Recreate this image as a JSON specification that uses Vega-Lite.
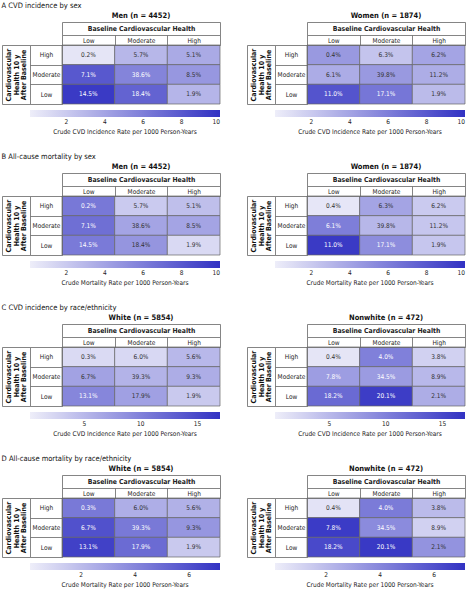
{
  "$schema": "https://vega.github.io/schema/vega-lite/v6.json",
  "padding": {"left": 1, "top": 1, "right": 0, "bottom": 0},
  "background": "white",
  "config": {
    "font": "DejaVu Sans Condensed, Lato, sans-serif",
    "view": {"stroke": null},
    "axis": {"domainColor": "#666", "tickColor": "#666", "domainWidth": 0.8, "tickWidth": 0.8, "labelColor": "#222", "titleColor": "#111", "labelFont": "DejaVu Sans Condensed, Lato, sans-serif", "titleFont": "DejaVu Sans Condensed, Lato, sans-serif", "grid": false},
    "legend": {"labelFont": "DejaVu Sans Condensed, Lato, sans-serif", "titleFont": "DejaVu Sans Condensed, Lato, sans-serif", "labelColor": "#222", "titleColor": "#222"},
    "title": {"font": "DejaVu Sans Condensed, Lato, sans-serif", "color": "#111"}
  },
  "datasets": {
    "cells": [
      {"measure": "CVD", "group": "Men", "baseline": "Low", "after": "High", "label": "0.2%", "rate": 0.6},
      {"measure": "CVD", "group": "Men", "baseline": "Moderate", "after": "High", "label": "5.7%", "rate": 3.0},
      {"measure": "CVD", "group": "Men", "baseline": "High", "after": "High", "label": "5.1%", "rate": 3.7},
      {"measure": "CVD", "group": "Men", "baseline": "Low", "after": "Moderate", "label": "7.1%", "rate": 8.0},
      {"measure": "CVD", "group": "Men", "baseline": "Moderate", "after": "Moderate", "label": "38.6%", "rate": 5.7},
      {"measure": "CVD", "group": "Men", "baseline": "High", "after": "Moderate", "label": "8.5%", "rate": 4.7},
      {"measure": "CVD", "group": "Men", "baseline": "Low", "after": "Low", "label": "14.5%", "rate": 9.6},
      {"measure": "CVD", "group": "Men", "baseline": "Moderate", "after": "Low", "label": "18.4%", "rate": 7.4},
      {"measure": "CVD", "group": "Men", "baseline": "High", "after": "Low", "label": "1.9%", "rate": 3.1},
      {"measure": "CVD", "group": "Women", "baseline": "Low", "after": "High", "label": "0.4%", "rate": 4.6},
      {"measure": "CVD", "group": "Women", "baseline": "Moderate", "after": "High", "label": "6.3%", "rate": 2.3},
      {"measure": "CVD", "group": "Women", "baseline": "High", "after": "High", "label": "6.2%", "rate": 4.0},
      {"measure": "CVD", "group": "Women", "baseline": "Low", "after": "Moderate", "label": "6.1%", "rate": 3.6},
      {"measure": "CVD", "group": "Women", "baseline": "Moderate", "after": "Moderate", "label": "39.8%", "rate": 4.6},
      {"measure": "CVD", "group": "Women", "baseline": "High", "after": "Moderate", "label": "11.2%", "rate": 3.5},
      {"measure": "CVD", "group": "Women", "baseline": "Low", "after": "Low", "label": "11.0%", "rate": 8.2},
      {"measure": "CVD", "group": "Women", "baseline": "Moderate", "after": "Low", "label": "17.1%", "rate": 6.4},
      {"measure": "CVD", "group": "Women", "baseline": "High", "after": "Low", "label": "1.9%", "rate": 2.8},
      {"measure": "Mortality", "group": "Men", "baseline": "Low", "after": "High", "label": "0.2%", "rate": 6.3},
      {"measure": "Mortality", "group": "Men", "baseline": "Moderate", "after": "High", "label": "5.7%", "rate": 2.0},
      {"measure": "Mortality", "group": "Men", "baseline": "High", "after": "High", "label": "5.1%", "rate": 2.6},
      {"measure": "Mortality", "group": "Men", "baseline": "Low", "after": "Moderate", "label": "7.1%", "rate": 6.8},
      {"measure": "Mortality", "group": "Men", "baseline": "Moderate", "after": "Moderate", "label": "38.6%", "rate": 4.0},
      {"measure": "Mortality", "group": "Men", "baseline": "High", "after": "Moderate", "label": "8.5%", "rate": 4.0},
      {"measure": "Mortality", "group": "Men", "baseline": "Low", "after": "Low", "label": "14.5%", "rate": 6.2},
      {"measure": "Mortality", "group": "Men", "baseline": "Moderate", "after": "Low", "label": "18.4%", "rate": 4.8},
      {"measure": "Mortality", "group": "Men", "baseline": "High", "after": "Low", "label": "1.9%", "rate": 1.2},
      {"measure": "Mortality", "group": "Women", "baseline": "Low", "after": "High", "label": "0.4%", "rate": 0.5},
      {"measure": "Mortality", "group": "Women", "baseline": "Moderate", "after": "High", "label": "6.3%", "rate": 4.0},
      {"measure": "Mortality", "group": "Women", "baseline": "High", "after": "High", "label": "6.2%", "rate": 2.0},
      {"measure": "Mortality", "group": "Women", "baseline": "Low", "after": "Moderate", "label": "6.1%", "rate": 6.0},
      {"measure": "Mortality", "group": "Women", "baseline": "Moderate", "after": "Moderate", "label": "39.8%", "rate": 3.0},
      {"measure": "Mortality", "group": "Women", "baseline": "High", "after": "Moderate", "label": "11.2%", "rate": 2.2},
      {"measure": "Mortality", "group": "Women", "baseline": "Low", "after": "Low", "label": "11.0%", "rate": 9.6},
      {"measure": "Mortality", "group": "Women", "baseline": "Moderate", "after": "Low", "label": "17.1%", "rate": 5.2},
      {"measure": "Mortality", "group": "Women", "baseline": "High", "after": "Low", "label": "1.9%", "rate": 2.2},
      {"measure": "CVD", "group": "White", "baseline": "Low", "after": "High", "label": "0.3%", "rate": 2.0},
      {"measure": "CVD", "group": "White", "baseline": "Moderate", "after": "High", "label": "6.0%", "rate": 2.2},
      {"measure": "CVD", "group": "White", "baseline": "High", "after": "High", "label": "5.6%", "rate": 5.0},
      {"measure": "CVD", "group": "White", "baseline": "Low", "after": "Moderate", "label": "6.7%", "rate": 7.0},
      {"measure": "CVD", "group": "White", "baseline": "Moderate", "after": "Moderate", "label": "39.3%", "rate": 5.5},
      {"measure": "CVD", "group": "White", "baseline": "High", "after": "Moderate", "label": "9.3%", "rate": 6.0},
      {"measure": "CVD", "group": "White", "baseline": "Low", "after": "Low", "label": "13.1%", "rate": 9.5},
      {"measure": "CVD", "group": "White", "baseline": "Moderate", "after": "Low", "label": "17.9%", "rate": 7.2},
      {"measure": "CVD", "group": "White", "baseline": "High", "after": "Low", "label": "1.9%", "rate": 3.5},
      {"measure": "CVD", "group": "Nonwhite", "baseline": "Low", "after": "High", "label": "0.4%", "rate": 1.0},
      {"measure": "CVD", "group": "Nonwhite", "baseline": "Moderate", "after": "High", "label": "4.0%", "rate": 10.0},
      {"measure": "CVD", "group": "Nonwhite", "baseline": "High", "after": "High", "label": "3.8%", "rate": 2.8},
      {"measure": "CVD", "group": "Nonwhite", "baseline": "Low", "after": "Moderate", "label": "7.8%", "rate": 7.4},
      {"measure": "CVD", "group": "Nonwhite", "baseline": "Moderate", "after": "Moderate", "label": "34.5%", "rate": 7.6},
      {"measure": "CVD", "group": "Nonwhite", "baseline": "High", "after": "Moderate", "label": "8.9%", "rate": 5.0},
      {"measure": "CVD", "group": "Nonwhite", "baseline": "Low", "after": "Low", "label": "18.2%", "rate": 12.0},
      {"measure": "CVD", "group": "Nonwhite", "baseline": "Moderate", "after": "Low", "label": "20.1%", "rate": 16.0},
      {"measure": "CVD", "group": "Nonwhite", "baseline": "High", "after": "Low", "label": "2.1%", "rate": 6.0},
      {"measure": "Mortality", "group": "White", "baseline": "Low", "after": "High", "label": "0.3%", "rate": 4.5},
      {"measure": "Mortality", "group": "White", "baseline": "Moderate", "after": "High", "label": "6.0%", "rate": 2.5},
      {"measure": "Mortality", "group": "White", "baseline": "High", "after": "High", "label": "5.6%", "rate": 2.4},
      {"measure": "Mortality", "group": "White", "baseline": "Low", "after": "Moderate", "label": "6.7%", "rate": 6.0},
      {"measure": "Mortality", "group": "White", "baseline": "Moderate", "after": "Moderate", "label": "39.3%", "rate": 4.5},
      {"measure": "Mortality", "group": "White", "baseline": "High", "after": "Moderate", "label": "9.3%", "rate": 3.4},
      {"measure": "Mortality", "group": "White", "baseline": "Low", "after": "Low", "label": "13.1%", "rate": 6.6},
      {"measure": "Mortality", "group": "White", "baseline": "Moderate", "after": "Low", "label": "17.9%", "rate": 5.0},
      {"measure": "Mortality", "group": "White", "baseline": "High", "after": "Low", "label": "1.9%", "rate": 1.5},
      {"measure": "Mortality", "group": "Nonwhite", "baseline": "Low", "after": "High", "label": "0.4%", "rate": 0.5},
      {"measure": "Mortality", "group": "Nonwhite", "baseline": "Moderate", "after": "High", "label": "4.0%", "rate": 4.4},
      {"measure": "Mortality", "group": "Nonwhite", "baseline": "High", "after": "High", "label": "3.8%", "rate": 2.0},
      {"measure": "Mortality", "group": "Nonwhite", "baseline": "Low", "after": "Moderate", "label": "7.8%", "rate": 6.8},
      {"measure": "Mortality", "group": "Nonwhite", "baseline": "Moderate", "after": "Moderate", "label": "34.5%", "rate": 3.8},
      {"measure": "Mortality", "group": "Nonwhite", "baseline": "High", "after": "Moderate", "label": "8.9%", "rate": 1.2},
      {"measure": "Mortality", "group": "Nonwhite", "baseline": "Low", "after": "Low", "label": "18.2%", "rate": 6.3},
      {"measure": "Mortality", "group": "Nonwhite", "baseline": "Moderate", "after": "Low", "label": "20.1%", "rate": 6.9},
      {"measure": "Mortality", "group": "Nonwhite", "baseline": "High", "after": "Low", "label": "2.1%", "rate": 3.5}
    ]
  },
  "resolve": {"scale": {"color": "independent"}, "legend": {"color": "independent"}},
  "spacing": 16,
  "vconcat": [
    {
      "title": {"text": "A  CVD incidence by sex", "anchor": "start", "fontSize": 7.5, "fontWeight": "normal", "offset": 3},
      "spacing": 25,
      "resolve": {"scale": {"color": "independent"}, "legend": {"color": "independent"}},
      "hconcat": [
        {
          "title": {"text": "Men (n = 4452)", "frame": "group", "fontSize": 7.5, "fontWeight": "bold", "offset": 2},
          "width": 158, "height": 59,
          "data": {"name": "cells"},
          "transform": [{"filter": "datum.measure === 'CVD' && datum.group === 'Men'"}],
          "resolve": {"scale": {"x": "independent", "y": "independent"}, "axis": {"x": "independent", "y": "independent"}},
          "layer": [
            {"layer": [
              {"mark": {"type": "rect", "stroke": "#666", "strokeWidth": 0.7},
               "encoding": {
                 "x": {"field": "baseline", "type": "nominal", "sort": ["Low", "Moderate", "High"], "axis": {"orient": "top", "title": null, "tickBand": "extent", "tickSize": 10, "labelPadding": -5, "labelBaseline": "middle", "labelFontSize": 6.5, "labelAngle": 0}},
                 "y": {"field": "after", "type": "nominal", "sort": ["High", "Moderate", "Low"], "axis": {"orient": "left", "title": null, "tickBand": "extent", "tickSize": 32, "labelPadding": -16, "labelAlign": "center", "labelBaseline": "middle", "labelFontSize": 6.5}},
                 "color": {"field": "rate", "type": "quantitative", "scale": {"domain": [0.1, 10], "range": ["#eeeef9", "#3232c3"], "interpolate": "rgb"},
                   "legend": {"orient": "none", "legendX": -32, "legendY": 65, "direction": "horizontal", "gradientLength": 190, "gradientThickness": 7, "title": "Crude CVD Incidence Rate per 1000 Person-Years", "titleOrient": "bottom", "titleAnchor": "middle", "titleFontSize": 6.5, "titleFontWeight": "normal", "labelFontSize": 6.5, "values": [2, 4, 6, 8, 10], "labelOffset": 2, "titlePadding": 3, "labelAlign": "center", "gradientStrokeWidth": 0}}
               }},
              {"mark": {"type": "text", "fontSize": 6.5},
               "encoding": {
                 "x": {"field": "baseline", "type": "nominal", "sort": ["Low", "Moderate", "High"]},
                 "y": {"field": "after", "type": "nominal", "sort": ["High", "Moderate", "Low"]},
                 "text": {"field": "label"},
                 "color": {"condition": {"test": "datum.rate > 5", "value": "white"}, "value": "#333"}
               }}
            ]},
            {"mark": {"type": "rect", "opacity": 0},
             "encoding": {
               "x": {"datum": "Baseline Cardiovascular Health", "type": "nominal", "axis": {"orient": "top", "offset": 10, "title": null, "tickBand": "extent", "tickSize": 13, "labelPadding": -6.5, "labelBaseline": "middle", "labelFontWeight": "bold", "labelFontSize": 6.8, "labelAngle": 0}},
               "y": {"datum": "CVH", "type": "nominal", "axis": {"orient": "left", "offset": 32, "labels": false, "tickBand": "extent", "tickSize": 28, "title": ["Cardiovascular", "Health 10 y", "After Baseline"], "titleFontSize": 7, "titleFontWeight": "bold", "titleLineHeight": 7.5, "titlePadding": -25, "titleBaseline": "bottom", "titleAngle": 270}}
             }},
            {"mark": {"type": "rect", "opacity": 0},
             "encoding": {
               "x": {"datum": "frame", "type": "nominal", "axis": {"orient": "top", "offset": 23, "title": null, "ticks": false, "labels": false}},
               "y": {"datum": "frame", "type": "nominal", "axis": {"orient": "left", "offset": 60, "title": null, "ticks": false, "labels": false}}
             }}
          ]
        },
        {
          "title": {"text": "Women (n = 1874)", "frame": "group", "fontSize": 7.5, "fontWeight": "bold", "offset": 2},
          "width": 158, "height": 59,
          "data": {"name": "cells"},
          "transform": [{"filter": "datum.measure === 'CVD' && datum.group === 'Women'"}],
          "resolve": {"scale": {"x": "independent", "y": "independent"}, "axis": {"x": "independent", "y": "independent"}},
          "layer": [
            {"layer": [
              {"mark": {"type": "rect", "stroke": "#666", "strokeWidth": 0.7},
               "encoding": {
                 "x": {"field": "baseline", "type": "nominal", "sort": ["Low", "Moderate", "High"], "axis": {"orient": "top", "title": null, "tickBand": "extent", "tickSize": 10, "labelPadding": -5, "labelBaseline": "middle", "labelFontSize": 6.5, "labelAngle": 0}},
                 "y": {"field": "after", "type": "nominal", "sort": ["High", "Moderate", "Low"], "axis": {"orient": "left", "title": null, "tickBand": "extent", "tickSize": 32, "labelPadding": -16, "labelAlign": "center", "labelBaseline": "middle", "labelFontSize": 6.5}},
                 "color": {"field": "rate", "type": "quantitative", "scale": {"domain": [0.1, 10], "range": ["#eeeef9", "#3232c3"], "interpolate": "rgb"},
                   "legend": {"orient": "none", "legendX": -32, "legendY": 65, "direction": "horizontal", "gradientLength": 190, "gradientThickness": 7, "title": "Crude CVD Incidence Rate per 1000 Person-Years", "titleOrient": "bottom", "titleAnchor": "middle", "titleFontSize": 6.5, "titleFontWeight": "normal", "labelFontSize": 6.5, "values": [2, 4, 6, 8, 10], "labelOffset": 2, "titlePadding": 3, "labelAlign": "center", "gradientStrokeWidth": 0}}
               }},
              {"mark": {"type": "text", "fontSize": 6.5},
               "encoding": {
                 "x": {"field": "baseline", "type": "nominal", "sort": ["Low", "Moderate", "High"]},
                 "y": {"field": "after", "type": "nominal", "sort": ["High", "Moderate", "Low"]},
                 "text": {"field": "label"},
                 "color": {"condition": {"test": "datum.rate > 5", "value": "white"}, "value": "#333"}
               }}
            ]},
            {"mark": {"type": "rect", "opacity": 0},
             "encoding": {
               "x": {"datum": "Baseline Cardiovascular Health", "type": "nominal", "axis": {"orient": "top", "offset": 10, "title": null, "tickBand": "extent", "tickSize": 13, "labelPadding": -6.5, "labelBaseline": "middle", "labelFontWeight": "bold", "labelFontSize": 6.8, "labelAngle": 0}},
               "y": {"datum": "CVH", "type": "nominal", "axis": {"orient": "left", "offset": 32, "labels": false, "tickBand": "extent", "tickSize": 28, "title": ["Cardiovascular", "Health 10 y", "After Baseline"], "titleFontSize": 7, "titleFontWeight": "bold", "titleLineHeight": 7.5, "titlePadding": -25, "titleBaseline": "bottom", "titleAngle": 270}}
             }},
            {"mark": {"type": "rect", "opacity": 0},
             "encoding": {
               "x": {"datum": "frame", "type": "nominal", "axis": {"orient": "top", "offset": 23, "title": null, "ticks": false, "labels": false}},
               "y": {"datum": "frame", "type": "nominal", "axis": {"orient": "left", "offset": 60, "title": null, "ticks": false, "labels": false}}
             }}
          ]
        }
      ]
    },
    {
      "title": {"text": "B  All-cause mortality by sex", "anchor": "start", "fontSize": 7.5, "fontWeight": "normal", "offset": 3},
      "spacing": 25,
      "resolve": {"scale": {"color": "independent"}, "legend": {"color": "independent"}},
      "hconcat": [
        {
          "title": {"text": "Men (n = 4452)", "frame": "group", "fontSize": 7.5, "fontWeight": "bold", "offset": 2},
          "width": 158, "height": 59,
          "data": {"name": "cells"},
          "transform": [{"filter": "datum.measure === 'Mortality' && datum.group === 'Men'"}],
          "resolve": {"scale": {"x": "independent", "y": "independent"}, "axis": {"x": "independent", "y": "independent"}},
          "layer": [
            {"layer": [
              {"mark": {"type": "rect", "stroke": "#666", "strokeWidth": 0.7},
               "encoding": {
                 "x": {"field": "baseline", "type": "nominal", "sort": ["Low", "Moderate", "High"], "axis": {"orient": "top", "title": null, "tickBand": "extent", "tickSize": 10, "labelPadding": -5, "labelBaseline": "middle", "labelFontSize": 6.5, "labelAngle": 0}},
                 "y": {"field": "after", "type": "nominal", "sort": ["High", "Moderate", "Low"], "axis": {"orient": "left", "title": null, "tickBand": "extent", "tickSize": 32, "labelPadding": -16, "labelAlign": "center", "labelBaseline": "middle", "labelFontSize": 6.5}},
                 "color": {"field": "rate", "type": "quantitative", "scale": {"domain": [0.1, 10], "range": ["#eeeef9", "#3232c3"], "interpolate": "rgb"},
                   "legend": {"orient": "none", "legendX": -32, "legendY": 65, "direction": "horizontal", "gradientLength": 190, "gradientThickness": 7, "title": "Crude Mortality Rate per 1000 Person-Years", "titleOrient": "bottom", "titleAnchor": "middle", "titleFontSize": 6.5, "titleFontWeight": "normal", "labelFontSize": 6.5, "values": [2, 4, 6, 8, 10], "labelOffset": 2, "titlePadding": 3, "labelAlign": "center", "gradientStrokeWidth": 0}}
               }},
              {"mark": {"type": "text", "fontSize": 6.5},
               "encoding": {
                 "x": {"field": "baseline", "type": "nominal", "sort": ["Low", "Moderate", "High"]},
                 "y": {"field": "after", "type": "nominal", "sort": ["High", "Moderate", "Low"]},
                 "text": {"field": "label"},
                 "color": {"condition": {"test": "datum.rate > 5", "value": "white"}, "value": "#333"}
               }}
            ]},
            {"mark": {"type": "rect", "opacity": 0},
             "encoding": {
               "x": {"datum": "Baseline Cardiovascular Health", "type": "nominal", "axis": {"orient": "top", "offset": 10, "title": null, "tickBand": "extent", "tickSize": 13, "labelPadding": -6.5, "labelBaseline": "middle", "labelFontWeight": "bold", "labelFontSize": 6.8, "labelAngle": 0}},
               "y": {"datum": "CVH", "type": "nominal", "axis": {"orient": "left", "offset": 32, "labels": false, "tickBand": "extent", "tickSize": 28, "title": ["Cardiovascular", "Health 10 y", "After Baseline"], "titleFontSize": 7, "titleFontWeight": "bold", "titleLineHeight": 7.5, "titlePadding": -25, "titleBaseline": "bottom", "titleAngle": 270}}
             }},
            {"mark": {"type": "rect", "opacity": 0},
             "encoding": {
               "x": {"datum": "frame", "type": "nominal", "axis": {"orient": "top", "offset": 23, "title": null, "ticks": false, "labels": false}},
               "y": {"datum": "frame", "type": "nominal", "axis": {"orient": "left", "offset": 60, "title": null, "ticks": false, "labels": false}}
             }}
          ]
        },
        {
          "title": {"text": "Women (n = 1874)", "frame": "group", "fontSize": 7.5, "fontWeight": "bold", "offset": 2},
          "width": 158, "height": 59,
          "data": {"name": "cells"},
          "transform": [{"filter": "datum.measure === 'Mortality' && datum.group === 'Women'"}],
          "resolve": {"scale": {"x": "independent", "y": "independent"}, "axis": {"x": "independent", "y": "independent"}},
          "layer": [
            {"layer": [
              {"mark": {"type": "rect", "stroke": "#666", "strokeWidth": 0.7},
               "encoding": {
                 "x": {"field": "baseline", "type": "nominal", "sort": ["Low", "Moderate", "High"], "axis": {"orient": "top", "title": null, "tickBand": "extent", "tickSize": 10, "labelPadding": -5, "labelBaseline": "middle", "labelFontSize": 6.5, "labelAngle": 0}},
                 "y": {"field": "after", "type": "nominal", "sort": ["High", "Moderate", "Low"], "axis": {"orient": "left", "title": null, "tickBand": "extent", "tickSize": 32, "labelPadding": -16, "labelAlign": "center", "labelBaseline": "middle", "labelFontSize": 6.5}},
                 "color": {"field": "rate", "type": "quantitative", "scale": {"domain": [0.1, 10], "range": ["#eeeef9", "#3232c3"], "interpolate": "rgb"},
                   "legend": {"orient": "none", "legendX": -32, "legendY": 65, "direction": "horizontal", "gradientLength": 190, "gradientThickness": 7, "title": "Crude Mortality Rate per 1000 Person-Years", "titleOrient": "bottom", "titleAnchor": "middle", "titleFontSize": 6.5, "titleFontWeight": "normal", "labelFontSize": 6.5, "values": [2, 4, 6, 8, 10], "labelOffset": 2, "titlePadding": 3, "labelAlign": "center", "gradientStrokeWidth": 0}}
               }},
              {"mark": {"type": "text", "fontSize": 6.5},
               "encoding": {
                 "x": {"field": "baseline", "type": "nominal", "sort": ["Low", "Moderate", "High"]},
                 "y": {"field": "after", "type": "nominal", "sort": ["High", "Moderate", "Low"]},
                 "text": {"field": "label"},
                 "color": {"condition": {"test": "datum.rate > 5", "value": "white"}, "value": "#333"}
               }}
            ]},
            {"mark": {"type": "rect", "opacity": 0},
             "encoding": {
               "x": {"datum": "Baseline Cardiovascular Health", "type": "nominal", "axis": {"orient": "top", "offset": 10, "title": null, "tickBand": "extent", "tickSize": 13, "labelPadding": -6.5, "labelBaseline": "middle", "labelFontWeight": "bold", "labelFontSize": 6.8, "labelAngle": 0}},
               "y": {"datum": "CVH", "type": "nominal", "axis": {"orient": "left", "offset": 32, "labels": false, "tickBand": "extent", "tickSize": 28, "title": ["Cardiovascular", "Health 10 y", "After Baseline"], "titleFontSize": 7, "titleFontWeight": "bold", "titleLineHeight": 7.5, "titlePadding": -25, "titleBaseline": "bottom", "titleAngle": 270}}
             }},
            {"mark": {"type": "rect", "opacity": 0},
             "encoding": {
               "x": {"datum": "frame", "type": "nominal", "axis": {"orient": "top", "offset": 23, "title": null, "ticks": false, "labels": false}},
               "y": {"datum": "frame", "type": "nominal", "axis": {"orient": "left", "offset": 60, "title": null, "ticks": false, "labels": false}}
             }}
          ]
        }
      ]
    },
    {
      "title": {"text": "C  CVD incidence by race/ethnicity", "anchor": "start", "fontSize": 7.5, "fontWeight": "normal", "offset": 3},
      "spacing": 25,
      "resolve": {"scale": {"color": "independent"}, "legend": {"color": "independent"}},
      "hconcat": [
        {
          "title": {"text": "White (n = 5854)", "frame": "group", "fontSize": 7.5, "fontWeight": "bold", "offset": 2},
          "width": 158, "height": 59,
          "data": {"name": "cells"},
          "transform": [{"filter": "datum.measure === 'CVD' && datum.group === 'White'"}],
          "resolve": {"scale": {"x": "independent", "y": "independent"}, "axis": {"x": "independent", "y": "independent"}},
          "layer": [
            {"layer": [
              {"mark": {"type": "rect", "stroke": "#666", "strokeWidth": 0.7},
               "encoding": {
                 "x": {"field": "baseline", "type": "nominal", "sort": ["Low", "Moderate", "High"], "axis": {"orient": "top", "title": null, "tickBand": "extent", "tickSize": 10, "labelPadding": -5, "labelBaseline": "middle", "labelFontSize": 6.5, "labelAngle": 0}},
                 "y": {"field": "after", "type": "nominal", "sort": ["High", "Moderate", "Low"], "axis": {"orient": "left", "title": null, "tickBand": "extent", "tickSize": 32, "labelPadding": -16, "labelAlign": "center", "labelBaseline": "middle", "labelFontSize": 6.5}},
                 "color": {"field": "rate", "type": "quantitative", "scale": {"domain": [0.2, 17], "range": ["#eeeef9", "#3232c3"], "interpolate": "rgb"},
                   "legend": {"orient": "none", "legendX": -32, "legendY": 65, "direction": "horizontal", "gradientLength": 190, "gradientThickness": 7, "title": "Crude CVD Incidence Rate per 1000 Person-Years", "titleOrient": "bottom", "titleAnchor": "middle", "titleFontSize": 6.5, "titleFontWeight": "normal", "labelFontSize": 6.5, "values": [5, 10, 15], "labelOffset": 2, "titlePadding": 3, "labelAlign": "center", "gradientStrokeWidth": 0}}
               }},
              {"mark": {"type": "text", "fontSize": 6.5},
               "encoding": {
                 "x": {"field": "baseline", "type": "nominal", "sort": ["Low", "Moderate", "High"]},
                 "y": {"field": "after", "type": "nominal", "sort": ["High", "Moderate", "Low"]},
                 "text": {"field": "label"},
                 "color": {"condition": {"test": "datum.rate > 7.25", "value": "white"}, "value": "#333"}
               }}
            ]},
            {"mark": {"type": "rect", "opacity": 0},
             "encoding": {
               "x": {"datum": "Baseline Cardiovascular Health", "type": "nominal", "axis": {"orient": "top", "offset": 10, "title": null, "tickBand": "extent", "tickSize": 13, "labelPadding": -6.5, "labelBaseline": "middle", "labelFontWeight": "bold", "labelFontSize": 6.8, "labelAngle": 0}},
               "y": {"datum": "CVH", "type": "nominal", "axis": {"orient": "left", "offset": 32, "labels": false, "tickBand": "extent", "tickSize": 28, "title": ["Cardiovascular", "Health 10 y", "After Baseline"], "titleFontSize": 7, "titleFontWeight": "bold", "titleLineHeight": 7.5, "titlePadding": -25, "titleBaseline": "bottom", "titleAngle": 270}}
             }},
            {"mark": {"type": "rect", "opacity": 0},
             "encoding": {
               "x": {"datum": "frame", "type": "nominal", "axis": {"orient": "top", "offset": 23, "title": null, "ticks": false, "labels": false}},
               "y": {"datum": "frame", "type": "nominal", "axis": {"orient": "left", "offset": 60, "title": null, "ticks": false, "labels": false}}
             }}
          ]
        },
        {
          "title": {"text": "Nonwhite (n = 472)", "frame": "group", "fontSize": 7.5, "fontWeight": "bold", "offset": 2},
          "width": 158, "height": 59,
          "data": {"name": "cells"},
          "transform": [{"filter": "datum.measure === 'CVD' && datum.group === 'Nonwhite'"}],
          "resolve": {"scale": {"x": "independent", "y": "independent"}, "axis": {"x": "independent", "y": "independent"}},
          "layer": [
            {"layer": [
              {"mark": {"type": "rect", "stroke": "#666", "strokeWidth": 0.7},
               "encoding": {
                 "x": {"field": "baseline", "type": "nominal", "sort": ["Low", "Moderate", "High"], "axis": {"orient": "top", "title": null, "tickBand": "extent", "tickSize": 10, "labelPadding": -5, "labelBaseline": "middle", "labelFontSize": 6.5, "labelAngle": 0}},
                 "y": {"field": "after", "type": "nominal", "sort": ["High", "Moderate", "Low"], "axis": {"orient": "left", "title": null, "tickBand": "extent", "tickSize": 32, "labelPadding": -16, "labelAlign": "center", "labelBaseline": "middle", "labelFontSize": 6.5}},
                 "color": {"field": "rate", "type": "quantitative", "scale": {"domain": [0.2, 17], "range": ["#eeeef9", "#3232c3"], "interpolate": "rgb"},
                   "legend": {"orient": "none", "legendX": -32, "legendY": 65, "direction": "horizontal", "gradientLength": 190, "gradientThickness": 7, "title": "Crude CVD Incidence Rate per 1000 Person-Years", "titleOrient": "bottom", "titleAnchor": "middle", "titleFontSize": 6.5, "titleFontWeight": "normal", "labelFontSize": 6.5, "values": [5, 10, 15], "labelOffset": 2, "titlePadding": 3, "labelAlign": "center", "gradientStrokeWidth": 0}}
               }},
              {"mark": {"type": "text", "fontSize": 6.5},
               "encoding": {
                 "x": {"field": "baseline", "type": "nominal", "sort": ["Low", "Moderate", "High"]},
                 "y": {"field": "after", "type": "nominal", "sort": ["High", "Moderate", "Low"]},
                 "text": {"field": "label"},
                 "color": {"condition": {"test": "datum.rate > 7.25", "value": "white"}, "value": "#333"}
               }}
            ]},
            {"mark": {"type": "rect", "opacity": 0},
             "encoding": {
               "x": {"datum": "Baseline Cardiovascular Health", "type": "nominal", "axis": {"orient": "top", "offset": 10, "title": null, "tickBand": "extent", "tickSize": 13, "labelPadding": -6.5, "labelBaseline": "middle", "labelFontWeight": "bold", "labelFontSize": 6.8, "labelAngle": 0}},
               "y": {"datum": "CVH", "type": "nominal", "axis": {"orient": "left", "offset": 32, "labels": false, "tickBand": "extent", "tickSize": 28, "title": ["Cardiovascular", "Health 10 y", "After Baseline"], "titleFontSize": 7, "titleFontWeight": "bold", "titleLineHeight": 7.5, "titlePadding": -25, "titleBaseline": "bottom", "titleAngle": 270}}
             }},
            {"mark": {"type": "rect", "opacity": 0},
             "encoding": {
               "x": {"datum": "frame", "type": "nominal", "axis": {"orient": "top", "offset": 23, "title": null, "ticks": false, "labels": false}},
               "y": {"datum": "frame", "type": "nominal", "axis": {"orient": "left", "offset": 60, "title": null, "ticks": false, "labels": false}}
             }}
          ]
        }
      ]
    },
    {
      "title": {"text": "D  All-cause mortality by race/ethnicity", "anchor": "start", "fontSize": 7.5, "fontWeight": "normal", "offset": 3},
      "spacing": 25,
      "resolve": {"scale": {"color": "independent"}, "legend": {"color": "independent"}},
      "hconcat": [
        {
          "title": {"text": "White (n = 5854)", "frame": "group", "fontSize": 7.5, "fontWeight": "bold", "offset": 2},
          "width": 158, "height": 59,
          "data": {"name": "cells"},
          "transform": [{"filter": "datum.measure === 'Mortality' && datum.group === 'White'"}],
          "resolve": {"scale": {"x": "independent", "y": "independent"}, "axis": {"x": "independent", "y": "independent"}},
          "layer": [
            {"layer": [
              {"mark": {"type": "rect", "stroke": "#666", "strokeWidth": 0.7},
               "encoding": {
                 "x": {"field": "baseline", "type": "nominal", "sort": ["Low", "Moderate", "High"], "axis": {"orient": "top", "title": null, "tickBand": "extent", "tickSize": 10, "labelPadding": -5, "labelBaseline": "middle", "labelFontSize": 6.5, "labelAngle": 0}},
                 "y": {"field": "after", "type": "nominal", "sort": ["High", "Moderate", "Low"], "axis": {"orient": "left", "title": null, "tickBand": "extent", "tickSize": 32, "labelPadding": -16, "labelAlign": "center", "labelBaseline": "middle", "labelFontSize": 6.5}},
                 "color": {"field": "rate", "type": "quantitative", "scale": {"domain": [0.1, 7.15], "range": ["#eeeef9", "#3232c3"], "interpolate": "rgb"},
                   "legend": {"orient": "none", "legendX": -32, "legendY": 65, "direction": "horizontal", "gradientLength": 190, "gradientThickness": 7, "title": "Crude Mortality Rate per 1000 Person-Years", "titleOrient": "bottom", "titleAnchor": "middle", "titleFontSize": 6.5, "titleFontWeight": "normal", "labelFontSize": 6.5, "values": [2, 4, 6], "labelOffset": 2, "titlePadding": 3, "labelAlign": "center", "gradientStrokeWidth": 0}}
               }},
              {"mark": {"type": "text", "fontSize": 6.5},
               "encoding": {
                 "x": {"field": "baseline", "type": "nominal", "sort": ["Low", "Moderate", "High"]},
                 "y": {"field": "after", "type": "nominal", "sort": ["High", "Moderate", "Low"]},
                 "text": {"field": "label"},
                 "color": {"condition": {"test": "datum.rate > 3.6", "value": "white"}, "value": "#333"}
               }}
            ]},
            {"mark": {"type": "rect", "opacity": 0},
             "encoding": {
               "x": {"datum": "Baseline Cardiovascular Health", "type": "nominal", "axis": {"orient": "top", "offset": 10, "title": null, "tickBand": "extent", "tickSize": 13, "labelPadding": -6.5, "labelBaseline": "middle", "labelFontWeight": "bold", "labelFontSize": 6.8, "labelAngle": 0}},
               "y": {"datum": "CVH", "type": "nominal", "axis": {"orient": "left", "offset": 32, "labels": false, "tickBand": "extent", "tickSize": 28, "title": ["Cardiovascular", "Health 10 y", "After Baseline"], "titleFontSize": 7, "titleFontWeight": "bold", "titleLineHeight": 7.5, "titlePadding": -25, "titleBaseline": "bottom", "titleAngle": 270}}
             }},
            {"mark": {"type": "rect", "opacity": 0},
             "encoding": {
               "x": {"datum": "frame", "type": "nominal", "axis": {"orient": "top", "offset": 23, "title": null, "ticks": false, "labels": false}},
               "y": {"datum": "frame", "type": "nominal", "axis": {"orient": "left", "offset": 60, "title": null, "ticks": false, "labels": false}}
             }}
          ]
        },
        {
          "title": {"text": "Nonwhite (n = 472)", "frame": "group", "fontSize": 7.5, "fontWeight": "bold", "offset": 2},
          "width": 158, "height": 59,
          "data": {"name": "cells"},
          "transform": [{"filter": "datum.measure === 'Mortality' && datum.group === 'Nonwhite'"}],
          "resolve": {"scale": {"x": "independent", "y": "independent"}, "axis": {"x": "independent", "y": "independent"}},
          "layer": [
            {"layer": [
              {"mark": {"type": "rect", "stroke": "#666", "strokeWidth": 0.7},
               "encoding": {
                 "x": {"field": "baseline", "type": "nominal", "sort": ["Low", "Moderate", "High"], "axis": {"orient": "top", "title": null, "tickBand": "extent", "tickSize": 10, "labelPadding": -5, "labelBaseline": "middle", "labelFontSize": 6.5, "labelAngle": 0}},
                 "y": {"field": "after", "type": "nominal", "sort": ["High", "Moderate", "Low"], "axis": {"orient": "left", "title": null, "tickBand": "extent", "tickSize": 32, "labelPadding": -16, "labelAlign": "center", "labelBaseline": "middle", "labelFontSize": 6.5}},
                 "color": {"field": "rate", "type": "quantitative", "scale": {"domain": [0.1, 7.15], "range": ["#eeeef9", "#3232c3"], "interpolate": "rgb"},
                   "legend": {"orient": "none", "legendX": -32, "legendY": 65, "direction": "horizontal", "gradientLength": 190, "gradientThickness": 7, "title": "Crude Mortality Rate per 1000 Person-Years", "titleOrient": "bottom", "titleAnchor": "middle", "titleFontSize": 6.5, "titleFontWeight": "normal", "labelFontSize": 6.5, "values": [2, 4, 6], "labelOffset": 2, "titlePadding": 3, "labelAlign": "center", "gradientStrokeWidth": 0}}
               }},
              {"mark": {"type": "text", "fontSize": 6.5},
               "encoding": {
                 "x": {"field": "baseline", "type": "nominal", "sort": ["Low", "Moderate", "High"]},
                 "y": {"field": "after", "type": "nominal", "sort": ["High", "Moderate", "Low"]},
                 "text": {"field": "label"},
                 "color": {"condition": {"test": "datum.rate > 3.6", "value": "white"}, "value": "#333"}
               }}
            ]},
            {"mark": {"type": "rect", "opacity": 0},
             "encoding": {
               "x": {"datum": "Baseline Cardiovascular Health", "type": "nominal", "axis": {"orient": "top", "offset": 10, "title": null, "tickBand": "extent", "tickSize": 13, "labelPadding": -6.5, "labelBaseline": "middle", "labelFontWeight": "bold", "labelFontSize": 6.8, "labelAngle": 0}},
               "y": {"datum": "CVH", "type": "nominal", "axis": {"orient": "left", "offset": 32, "labels": false, "tickBand": "extent", "tickSize": 28, "title": ["Cardiovascular", "Health 10 y", "After Baseline"], "titleFontSize": 7, "titleFontWeight": "bold", "titleLineHeight": 7.5, "titlePadding": -25, "titleBaseline": "bottom", "titleAngle": 270}}
             }},
            {"mark": {"type": "rect", "opacity": 0},
             "encoding": {
               "x": {"datum": "frame", "type": "nominal", "axis": {"orient": "top", "offset": 23, "title": null, "ticks": false, "labels": false}},
               "y": {"datum": "frame", "type": "nominal", "axis": {"orient": "left", "offset": 60, "title": null, "ticks": false, "labels": false}}
             }}
          ]
        }
      ]
    }
  ]
}
